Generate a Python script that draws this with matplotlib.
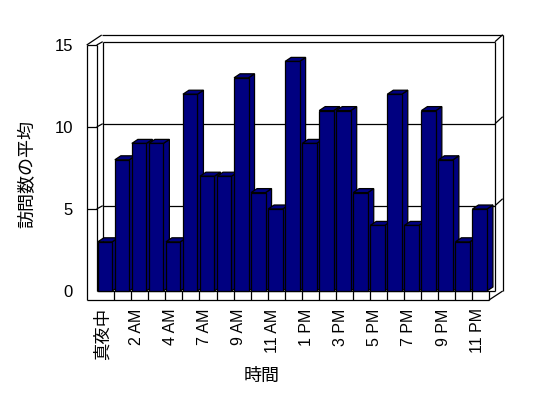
import matplotlib
matplotlib.use("Agg")
import matplotlib.pyplot as plt
from matplotlib.patches import Rectangle, Polygon

plt.rcParams['font.family'] = ['Liberation Sans', 'Noto Sans CJK JP']

# data
hours = ['真夜中', '1 AM', '2 AM', '3 AM', '4 AM', '5 AM', '7 AM', '8 AM', '9 AM',
         '10 AM', '11 AM', '正午', '1 PM', '2 PM', '3 PM', '4 PM', '5 PM', '6 PM',
         '7 PM', '8 PM', '9 PM', '10 PM', '11 PM']
visits = [3, 8, 9, 9, 3, 12, 7, 7, 13, 6, 5, 14, 9, 11, 11, 6, 4, 12, 4, 11, 8, 3, 5]
yticks = [0, 5, 10, 15]

W, H = 548, 398
# pixel geometry of the front plane (category boundary 0 and value 0)
x0_px, cat_px = 97.3, 17.03
y0_px, unit_px = 291.0, 16.4
left_px, right_px, top_px, bot_px = 86.7, 502.7, 35.0, 300.0

fig = plt.figure(figsize=(W / 100, H / 100), dpi=100)
ax = fig.add_axes([left_px / W, 1 - bot_px / H, (right_px - left_px) / W, (bot_px - top_px) / H])
ax.set_xlim((left_px - x0_px) / cat_px, (right_px - x0_px) / cat_px)
ax.set_ylim((y0_px - bot_px) / unit_px, (y0_px - top_px) / unit_px)
for s in ax.spines.values():
    s.set_visible(False)


def px(x, y):
    return (x - x0_px) / cat_px, (y0_px - y) / unit_px


def seg(p, q, z=1):
    a, b = px(*p), px(*q)
    ax.plot([a[0], b[0]], [a[1], b[1]], color='black', lw=0.9, zorder=z,
            clip_on=False, solid_capstyle='butt')


# walls and gridlines
for v in yticks[1:]:
    fy = y0_px - v * unit_px
    seg((left_px, fy), (96.7, fy))
    seg((96.7, fy), (102.7, fy - 3.3))
    seg((102.7, fy - 3.3), (495, fy - 3.3))
    seg((495, fy - 3.3), (right_px, fy - 10.3))
seg((left_px, 45), (101.7, top_px))
seg((101.7, top_px), (right_px, top_px))
seg((left_px, 45), (left_px, bot_px))
seg((96.7, 45), (96.7, y0_px))
seg((102.7, 41.7), (102.7, y0_px - 3.3))
seg((495, 41.7), (495, y0_px))
seg((right_px, top_px), (right_px, y0_px))

# floor
n = len(visits)
floor_end = x0_px + cat_px * n
seg((left_px, bot_px), (floor_end, bot_px), 3)
seg((96.7, y0_px), (495, y0_px), 3)
seg((floor_end, bot_px), (right_px, y0_px), 3)
for k in range(1, n + 1):
    bx = x0_px + cat_px * k
    seg((bx, y0_px), (bx, bot_px), 3)

# 3d bars
bw = 0.85
dx, dy = 6 / cat_px, 4 / unit_px
navy = '#000080'
for i, v in enumerate(visits):
    xl = i + 0.03
    z = 5 + i
    side = Polygon([(xl + bw, 0), (xl + bw + dx, dy), (xl + bw + dx, v + dy), (xl + bw, v)],
                   facecolor=navy, edgecolor='black', lw=0.9, zorder=z)
    top = Polygon([(xl, v), (xl + dx, v + dy), (xl + bw + dx, v + dy), (xl + bw, v)],
                  facecolor=navy, edgecolor='black', lw=0.9, zorder=z)
    front = Rectangle((xl, 0), bw, v, facecolor=navy, edgecolor='black', lw=0.9, zorder=z)
    ax.add_patch(side)
    ax.add_patch(top)
    ax.add_patch(front)

# ticks
ax.set_yticks(yticks)
ax.set_yticklabels([str(t) for t in yticks], fontsize=12)
ax.tick_params(axis='y', length=0, pad=10)
pos = [i + 0.3 for i in range(0, n, 2)]
ax.set_xticks(pos)
ax.set_xticklabels(hours[::2], rotation=90, fontsize=11.5)
ax.tick_params(axis='x', length=0, pad=6)
for lab in ax.get_xticklabels():
    if lab.get_text() == '真夜中':
        lab.set_fontsize(12.5)

fig.text(261.7 / W, 1 - 376.7 / H, '時間', fontsize=13, ha='center', va='center')
fig.text(28 / W, 1 - 173.5 / H, '訪問数の平均', fontsize=13, rotation=90,
         ha='center', va='center')

fig.savefig('out.png', dpi=100)
